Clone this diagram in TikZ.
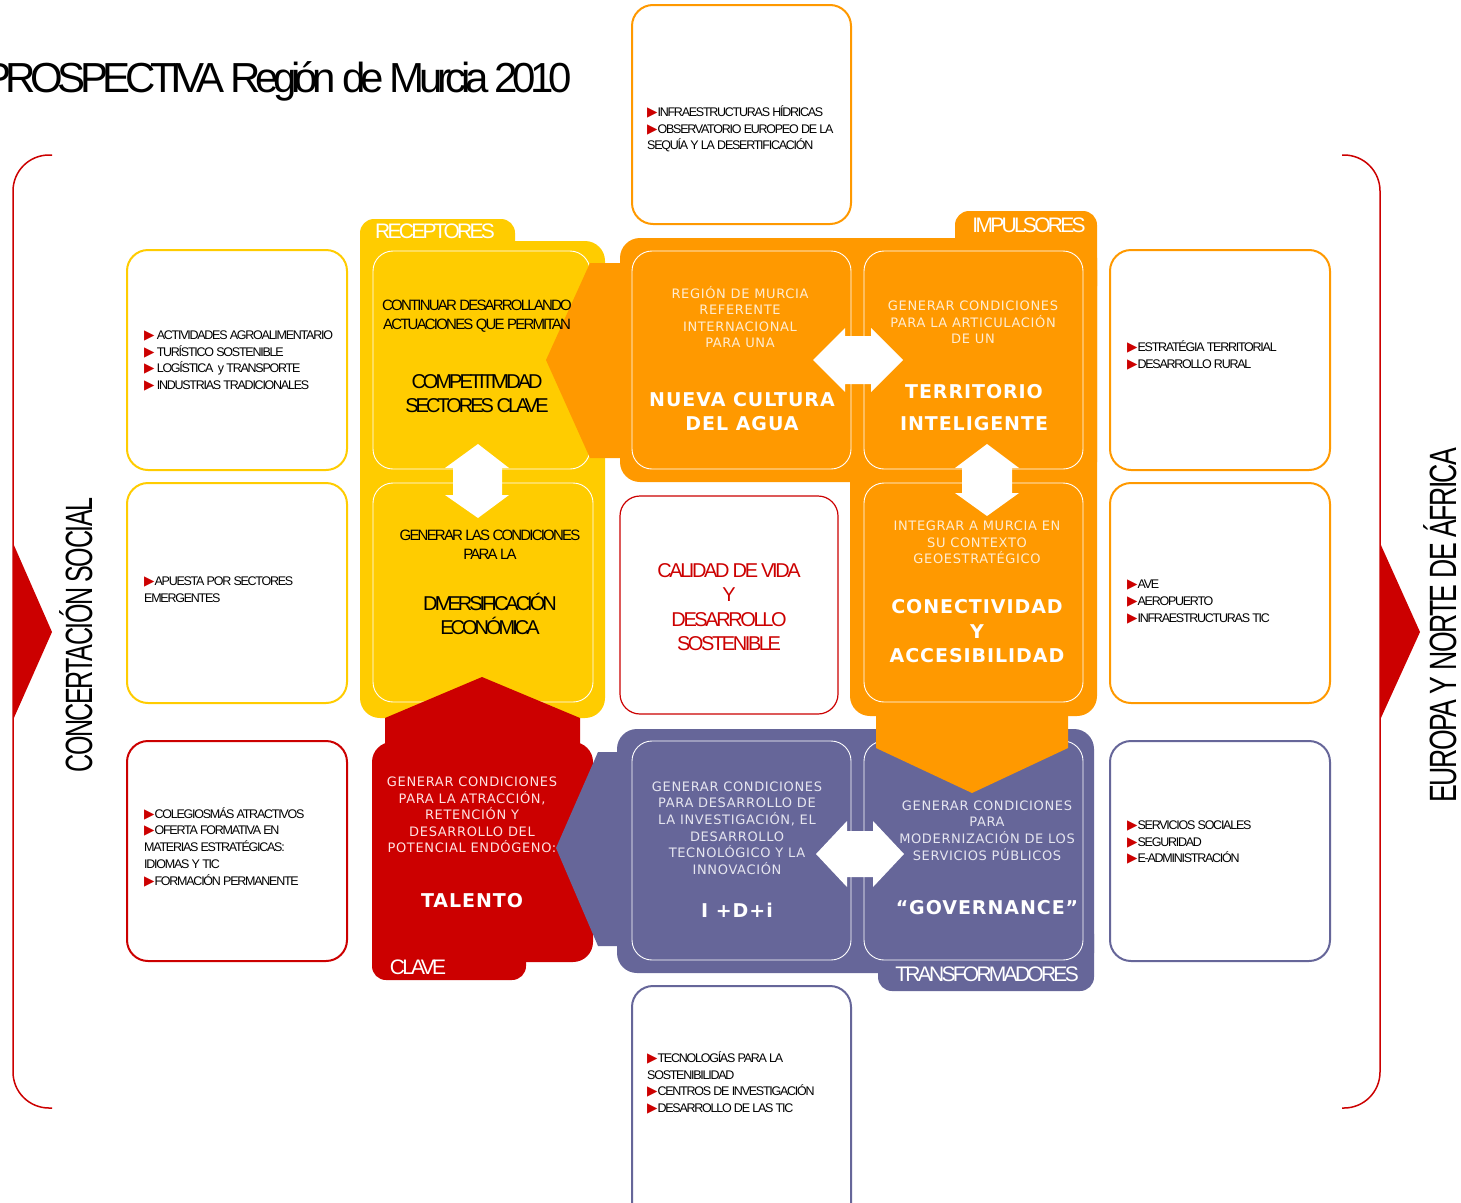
\documentclass[tikz,border=0pt]{standalone}
\usepackage{fontspec}
\setmainfont{Liberation Sans}
\newfontfamily\tgt{Liberation Sans}[LetterSpace=-10]
\newfontfamily\verd{DejaVu Sans}[LetterSpace=5]
\newfontfamily\symf{DejaVu Sans}
\definecolor{yel}{HTML}{FFCC00}
\definecolor{ora}{HTML}{FF9900}
\definecolor{pur}{HTML}{666699}
\definecolor{rojo}{HTML}{CC0000}
\definecolor{otxt}{HTML}{FFEDD2}
\definecolor{ptxt}{HTML}{E6E6F0}
\definecolor{rtxt}{HTML}{FFE2E2}
\newcommand\bu{{\symf\color{rojo}\fontsize{13.5}{10}\selectfont ▶}}
\begin{document}
\begin{tikzpicture}[x=1pt,y=-1pt,
  lbox/.style={line width=2pt, rounded corners=21pt, fill=white},
  ibox/.style={draw=white, line width=0.9pt, rounded corners=20pt},
  blist/.style={anchor=west, align=left, inner sep=0pt, font=\tgt\fontsize{12.5}{16.7}\selectfont},
  smallw/.style={align=center, inner sep=0pt, font=\verd\fontsize{13}{16.6}\selectfont},
  bigw/.style={align=center, inner sep=0pt, text=white, font=\verd\bfseries\fontsize{19}{24}\selectfont},
  tabtxt/.style={inner sep=0pt, text=white, font=\tgt\fontsize{21}{21}\selectfont\addfontfeatures{LetterSpace=-13}},
  ytxt/.style={align=center, inner sep=0pt, font=\tgt\fontsize{15}{19}\selectfont\addfontfeatures{LetterSpace=-12}},
  ybig/.style={align=center, inner sep=0pt, font=\tgt\fontsize{20}{23.5}\selectfont\addfontfeatures{LetterSpace=-15}},
  side/.style={rotate=90, anchor=base, inner sep=0pt, font=\fontsize{38}{38}\selectfont\addfontfeatures{LetterSpace=-6}},
]
\useasboundingbox (0,0) rectangle (1461,1202);
\fill[white] (0,0) rectangle (1461,1202);

% brackets
\draw[rojo, line width=1.5pt, rounded corners=36pt] (52,155) -- (13,155) -- (13,1108) -- (52,1108);
\draw[rojo, line width=1.5pt, rounded corners=36pt] (1342,155) -- (1380,155) -- (1380,1108) -- (1342,1108);
\fill[rojo] (13,543) -- (52,632) -- (13,720) -- cycle;
\fill[rojo] (1380,543) -- (1420,632) -- (1380,720) -- cycle;

% list boxes
\draw[lbox, draw=ora] (632,5) rectangle (851,224);
\draw[lbox, draw=yel] (127,250) rectangle (347,470);
\draw[lbox, draw=yel] (127,483) rectangle (347,703);
\draw[lbox, draw=rojo] (127,741) rectangle (347,961);
\draw[lbox, draw=ora] (1110,250) rectangle (1330,470);
\draw[lbox, draw=ora] (1110,483) rectangle (1330,703);
\draw[lbox, draw=pur] (1110,741) rectangle (1330,961);
\draw[lbox, draw=pur] (632,986) rectangle (851,1240);

% yellow panel
\fill[yel, rounded corners=20pt] (360,241) rectangle (605,718);
\fill[yel, rounded corners=14pt] (360,219) rectangle (515,290);
\draw[ibox] (373,251) rectangle (590,469);
\draw[ibox] (373,483) rectangle (593,702);
\fill[white] (478,444) -- (509,468) -- (502,468) -- (502,495) -- (509,495) -- (478,518) -- (445,495) -- (453,495) -- (453,468) -- (445,468) -- cycle;

% red panel
\fill[rojo] (385,760) -- (385,718) -- (482,677) -- (580,718) -- (580,760) -- cycle;
\fill[rojo, rounded corners=20pt] (372,742) rectangle (593,962);
\fill[rojo, rounded corners=14pt] (372,920) rectangle (526,980);

% purple panel
\fill[pur, rounded corners=20pt] (617,729) rectangle (1094,973);
\fill[pur, rounded corners=14pt] (878,920) rectangle (1094,991);
\fill[pur] (630,752) -- (598,752) -- (556,848) -- (598,946) -- (630,946) -- cycle;
\draw[ibox] (632,741) rectangle (851,960);
\draw[ibox] (864,741) rectangle (1083,960);
\fill[white] (816,854) -- (847,821) -- (847,831) -- (873,831) -- (873,821) -- (904,854) -- (873,887) -- (873,877) -- (847,877) -- (847,887) -- cycle;

% orange panel
\fill[ora, rounded corners=20pt] (620,238) rectangle (1097,482);
\fill[ora, rounded corners=20pt] (850,250) rectangle (1097,716);
\fill[ora, rounded corners=14pt] (955,211) rectangle (1097,300);
\fill[ora] (630,263) -- (590,263) -- (546,360) -- (590,458) -- (630,458) -- cycle;
\fill[ora] (876,700) -- (876,748) -- (972,793) -- (1068,748) -- (1068,700) -- cycle;
\draw[ibox] (632,251) rectangle (851,469);
\draw[ibox] (864,251) rectangle (1083,469);
\draw[ibox] (864,483) rectangle (1083,702);
\fill[white] (813,360) -- (845,328) -- (845,336) -- (871,336) -- (871,328) -- (903,360) -- (871,392) -- (871,384) -- (845,384) -- (845,392) -- cycle;
\fill[white] (987,444) -- (1019,468) -- (1012,468) -- (1012,493) -- (1019,493) -- (987,516) -- (955,493) -- (962,493) -- (962,468) -- (955,468) -- cycle;

% centre box
\draw[rojo, line width=1.2pt, rounded corners=20pt, fill=white] (620,496) rectangle (838,714);

% ---------- texts ----------
\node[anchor=base east, inner sep=0pt, font=\tgt\fontsize{42}{42}\selectfont\addfontfeatures{LetterSpace=-13}] (title) at (572,92) {PROSPECTIVA Región de Murcia 2010};

\node[side] (cs) at (92,635) {\scalebox{0.66}[1]{CONCERTACIÓN SOCIAL}};
\node[side] (eu) at (1456,625) {\scalebox{0.7}[1]{EUROPA Y NORTE DE ÁFRICA}};

\node[blist] (ltop) at (647,129) {\bu INFRAESTRUCTURAS HÍDRICAS\\\bu OBSERVATORIO EUROPEO DE LA\\SEQUÍA Y LA DESERTIFICACIÓN};
\node[blist] (l1) at (144,361) {\bu\ ACTIVIDADES AGROALIMENTARIO\\\bu\ TURÍSTICO SOSTENIBLE\\\bu\ LOGÍSTICA~ y TRANSPORTE\\\bu\ INDUSTRIAS TRADICIONALES};
\node[blist] (l2) at (144,589.5) {\bu APUESTA POR SECTORES\\EMERGENTES};
\node[blist] (l3) at (144,847) {\bu COLEGIOSMÁS ATRACTIVOS\\\bu OFERTA FORMATIVA EN\\MATERIAS ESTRATÉGICAS:\\IDIOMAS Y TIC\\\bu FORMACIÓN PERMANENTE};
\node[blist] (r1) at (1127,355.5) {\bu ESTRATÉGIA TERRITORIAL\\\bu DESARROLLO RURAL};
\node[blist] (r2) at (1127,602) {\bu AVE\\\bu AEROPUERTO\\\bu INFRAESTRUCTURAS TIC};
\node[blist] (r3) at (1127,842.5) {\bu SERVICIOS SOCIALES\\\bu SEGURIDAD\\\bu E-ADMINISTRACIÓN};
\node[blist] (lbot) at (647,1083) {\bu TECNOLOGÍAS PARA LA\\SOSTENIBILIDAD\\\bu CENTROS DE INVESTIGACIÓN\\\bu DESARROLLO DE LAS TIC};

% tabs
\node[tabtxt] (trec) at (435,231) {RECEPTORES};
\node[tabtxt] (timp) at (1029,225) {IMPULSORES};
\node[tabtxt] (ttra) at (987,974) {TRANSFORMADORES};
\node[tabtxt] (tcla) at (418,967) {CLAVE};

% yellow texts
\node[ytxt] (ya1) at (477,316.5) {CONTINUAR DESARROLLANDO\\ACTUACIONES QUE PERMITAN};
\node[ybig] (ya2) at (477,393.5) {COMPETITIVIDAD\\SECTORES CLAVE};
\node[ytxt] (yb1) at (490,544.5) {GENERAR LAS CONDICIONES\\PARA LA};
\node[ybig] (yb2) at (490,614) {DIVERSIFICACIÓN\\ECONÓMICA};

% centre
\node[align=center, inner sep=0pt, text=rojo, font=\tgt\fontsize{20}{24.4}\selectfont\addfontfeatures{LetterSpace=-12}] (cal) at (729,607) {CALIDAD DE VIDA\\Y\\DESARROLLO\\SOSTENIBLE};

% orange texts
\node[smallw, text=otxt] (oc1) at (740,317) {REGIÓN DE MURCIA\\REFERENTE\\INTERNACIONAL\\PARA UNA};
\node[bigw] (oc2) at (742,412) {NUEVA CULTURA\\DEL AGUA};
\node[smallw, text=otxt] (od1) at (973,322.5) {GENERAR CONDICIONES\\PARA LA ARTICULACIÓN\\DE UN};
\node[bigw, font=\verd\bfseries\fontsize{19}{32}\selectfont] (od2) at (974,408) {TERRITORIO\\INTELIGENTE};
\node[smallw, text=otxt] (oe1) at (977,542.5) {INTEGRAR A MURCIA EN\\SU CONTEXTO\\GEOESTRATÉGICO};
\node[bigw, font=\verd\bfseries\fontsize{19}{24.5}\selectfont] (oe2) at (977,631.5) {CONECTIVIDAD\\Y\\ACCESIBILIDAD};

% red texts
\node[smallw, text=rtxt] (rt1) at (472,815) {GENERAR CONDICIONES\\PARA LA ATRACCIÓN,\\RETENCIÓN Y\\DESARROLLO DEL\\POTENCIAL ENDÓGENO:};
\node[bigw] (rt2) at (472,901) {TALENTO};

% purple texts
\node[smallw, text=ptxt] (pf1) at (737,828) {GENERAR CONDICIONES\\PARA DESARROLLO DE\\LA INVESTIGACIÓN, EL\\DESARROLLO\\TECNOLÓGICO Y LA\\INNOVACIÓN};
\node[bigw] (pf2) at (737,910) {I +D+i};
\node[smallw, text=ptxt] (pg1) at (987,830.5) {GENERAR CONDICIONES\\PARA\\MODERNIZACIÓN DE LOS\\SERVICIOS PÚBLICOS};
\node[bigw] (pg2) at (987,908) {“GOVERNANCE”};
\end{tikzpicture}
\end{document}
